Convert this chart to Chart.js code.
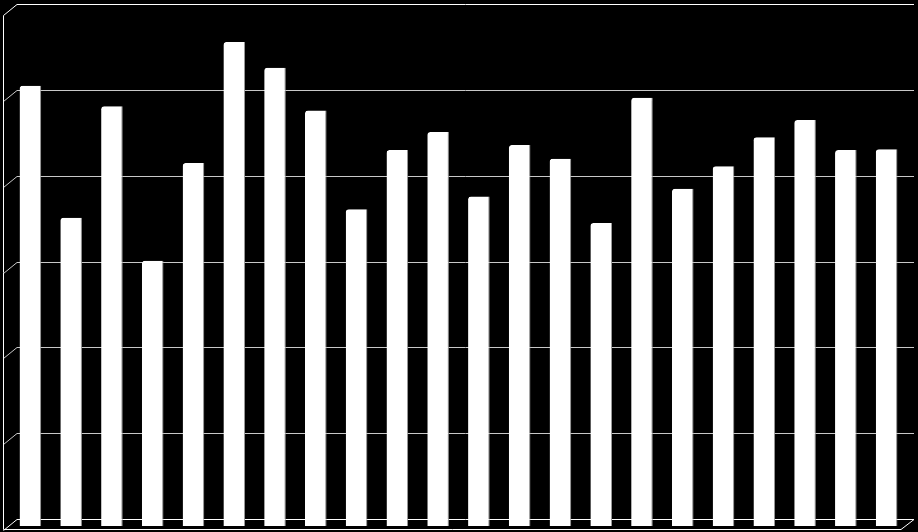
<!DOCTYPE html>
<html>
<head>
<meta charset="utf-8">
<script src="https://cdn.jsdelivr.net/npm/chart.js@4/dist/chart.umd.min.js"></script>
<style>
  html, body { margin: 0; padding: 0; background: #000; }
  canvas { display: block; }
</style>
</head>
<body>
<canvas id="c" width="918" height="532"></canvas>
<script>
const categories = ["1","2","3","4","5","6","7","8","9","10","11","12","13","14","15","16","17","18","19","20","21","22"];
const values = [51.3, 35.9, 48.9, 30.9, 42.3, 56.4, 53.4, 48.4, 36.9, 43.8, 45.9, 38.4, 44.4, 42.8, 35.3, 49.9, 39.3, 41.9, 45.3, 47.3, 43.8, 43.9];
const tickValues = [0, 10, 20, 30, 40, 50, 60];

const DEPTH_X = 7, DEPTH_Y = 7;

const frame3d = {
  id: 'frame3d',
  beforeDatasetsDraw(chart) {
    const ctx = chart.ctx;
    const y = chart.scales.y;
    const a = chart.chartArea;
    const backL = a.left + DEPTH_X, backR = a.right + DEPTH_X;
    const wallX = 3.5;
    ctx.save();
    ctx.lineWidth = 1;
    tickValues.forEach(v => {
      const yb = Math.round(y.getPixelForValue(v) - DEPTH_Y) + 0.5;
      ctx.strokeStyle = (v === 0 || v === 60) ? '#ffffff' : '#c8c8c8';
      ctx.beginPath();
      ctx.moveTo(wallX, yb + 11);
      ctx.lineTo(backL, yb);
      ctx.lineTo(backR, yb);
      ctx.stroke();
    });
    // left wall vertical
    const yTop = Math.round(y.getPixelForValue(60) - DEPTH_Y) + 0.5;
    const yFloorBack = Math.round(y.getPixelForValue(0) - DEPTH_Y) + 0.5;
    const yFront = yFloorBack + 10;
    ctx.strokeStyle = '#ffffff';
    ctx.beginPath();
    ctx.moveTo(wallX, yTop + 11);
    ctx.lineTo(wallX, yFront);
    ctx.lineTo(backR - 13, yFront);
    ctx.lineTo(backR, yFloorBack);
    ctx.stroke();
    ctx.restore();
  }
};

const bg = {
  id: 'bg',
  beforeDraw(chart) {
    const ctx = chart.ctx;
    ctx.save();
    ctx.fillStyle = '#000';
    ctx.fillRect(0, 0, chart.width, chart.height);
    ctx.restore();
  }
};

new Chart(document.getElementById('c'), {
  type: 'bar',
  data: {
    labels: categories,
    datasets: [{
      data: values,
      backgroundColor: '#ffffff',
      borderColor: '#9a9a9a',
      borderWidth: { top: 0, right: 1, bottom: 0, left: 0 },
      borderSkipped: false,
      borderRadius: { topLeft: 3, topRight: 0, bottomLeft: 0, bottomRight: 0 },
      categoryPercentage: 1,
      barPercentage: 0.53
    }]
  },
  options: {
    responsive: false,
    animation: false,
    devicePixelRatio: 1,
    layout: { padding: { left: 10, right: 11, top: 11, bottom: 6 } },
    plugins: { legend: { display: false }, tooltip: { enabled: false } },
    scales: {
      x: {
        display: false,
        grid: { display: false }
      },
      y: {
        display: false,
        min: 0,
        max: 60,
        ticks: { stepSize: 10 },
        grid: { display: false }
      }
    }
  },
  plugins: [bg, frame3d]
});
</script>
</body>
</html>
